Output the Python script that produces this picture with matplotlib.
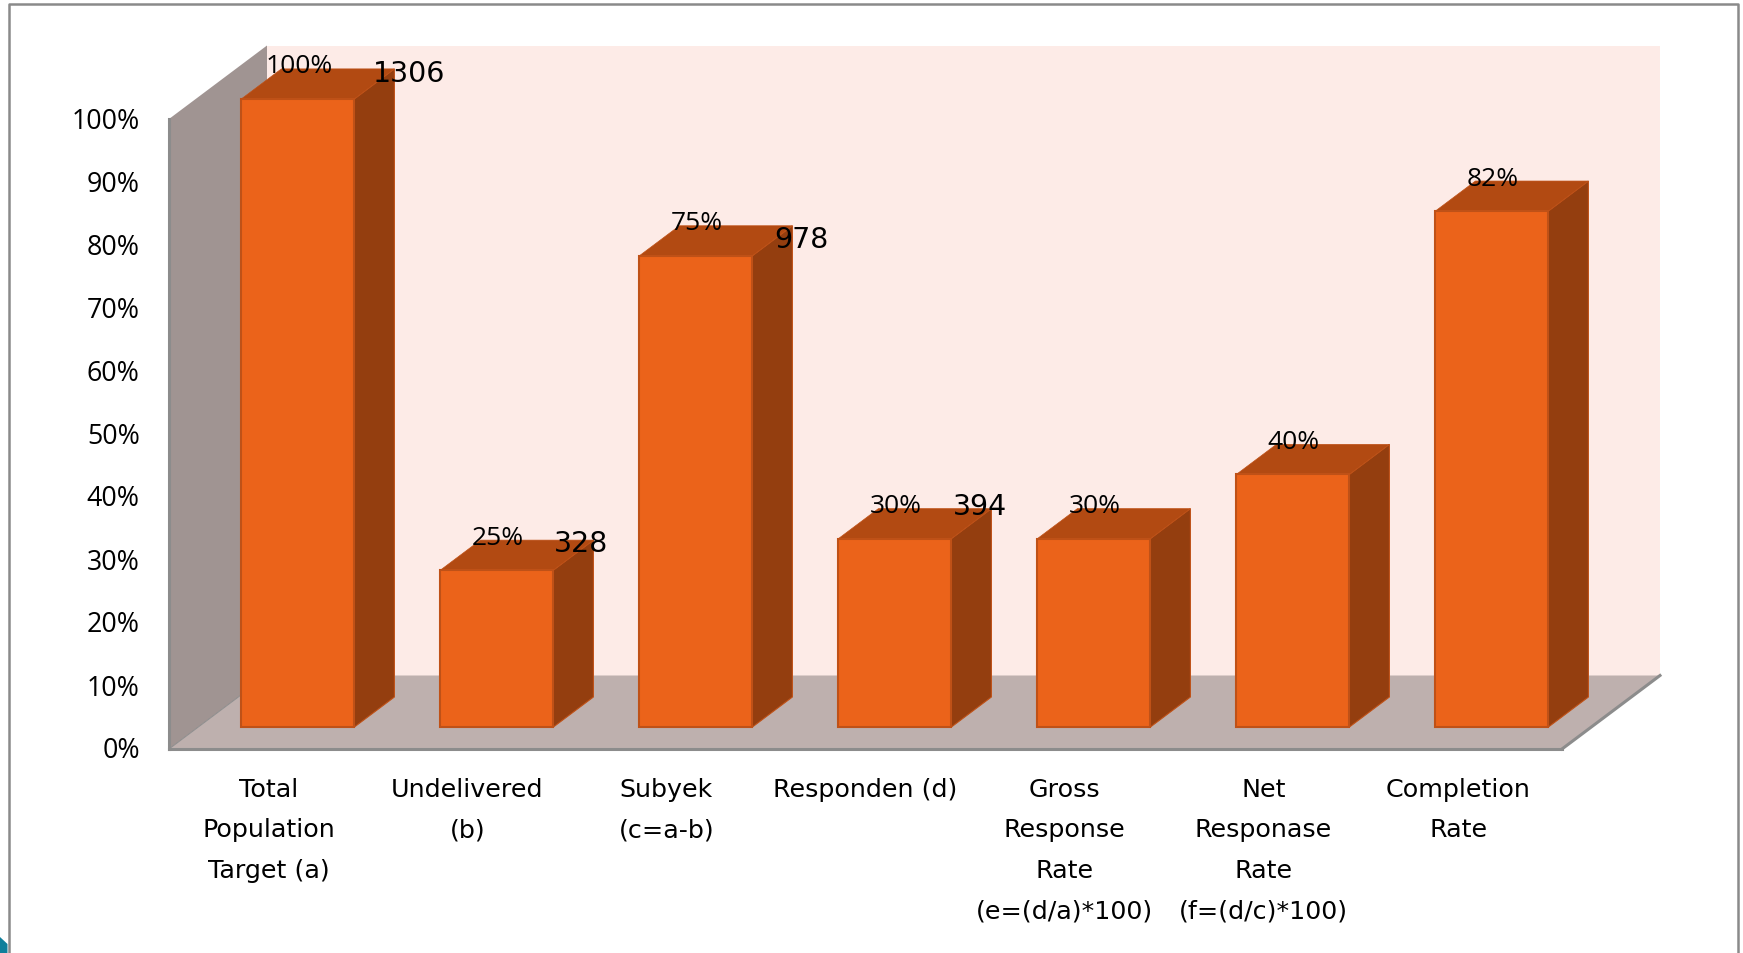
import matplotlib
matplotlib.use("Agg")
import matplotlib.pyplot as plt
from matplotlib.lines import Line2D
from matplotlib.patches import Polygon
from matplotlib.transforms import ScaledTranslation

categories = [
    "Total\nPopulation\nTarget (a)",
    "Undelivered\n(b)",
    "Subyek\n(c=a-b)",
    "Responden (d)",
    "Gross\nResponse\nRate\n(e=(d/a)*100)",
    "Net\nResponase\nRate\n(f=(d/c)*100)",
    "Completion\nRate",
]
percent_values = [99.7, 24.9, 74.8, 29.9, 29.9, 40.1, 81.9]
percent_labels = ["100%", "25%", "75%", "30%", "30%", "40%", "82%"]
count_labels = ["1306", "328", "978", "394", "", "", ""]
y_ticks = [0, 10, 20, 30, 40, 50, 60, 70, 80, 90, 100]

# style
W, H = 1743, 954
FRONT, EDGE, TOP, SIDE = "#EB631A", "#BF5117", "#B24A12", "#943E0F"
BACK, WALL, FLOOR, GREY = "#FDEBE7", "#A09492", "#BEB0AE", "#8C8C8C"
count_offsets = [(111, 26), (84, 27), (106, 17), (85, 33), (0, 0), (0, 0), (0, 0)]

fig = plt.figure(figsize=(W / 100, H / 100), dpi=100, facecolor="white")
ax = fig.add_axes([169 / W, 1 - 750 / H, (1562 - 169) / W, 630 / H])
ax.set_xlim(-0.5, 6.5)
ax.set_ylim(0, 100)
ax.patch.set_visible(False)

px_x = 7 / 1393          # data units per pixel
px_y = 100 / 630
wall_dx, wall_dy = 98 * px_x, 73.5 * px_y
depth_dx, depth_dy = 40 * px_x, 30 * px_y
bar_w = 113 * px_x
xmin, xmax = -0.5, 6.5

def poly(pts, color, z, **kw):
    ax.add_patch(Polygon(pts, closed=True, facecolor=color, edgecolor=kw.get("ec", "none"),
                         linewidth=kw.get("lw", 0), zorder=z, clip_on=False,
                         transform=kw.get("tr", ax.transData)))

# walls and floor
poly([(xmin + wall_dx, wall_dy), (xmax + wall_dx, wall_dy),
      (xmax + wall_dx, 100 + wall_dy), (xmin + wall_dx, 100 + wall_dy)], BACK, 1)
poly([(xmin, 0), (xmin + wall_dx, wall_dy), (xmin + wall_dx, 100 + wall_dy), (xmin, 100)], WALL, 2)
poly([(xmin, 0), (xmax, 0), (xmax + wall_dx, wall_dy), (xmin + wall_dx, wall_dy)], FLOOR, 2)
ax.plot([xmax, xmax + wall_dx], [0, wall_dy], color=GREY, lw=2.2, zorder=3, clip_on=False)
ax.plot([xmin, xmin + wall_dx], [0, wall_dy], color=GREY, lw=0.7, zorder=3, clip_on=False)

# bars: the bar plane sits a little behind the axis plane
shift = ScaledTranslation(29.4 / 100, 22 / 100, fig.dpi_scale_trans)
bar_tr = ax.transData + shift
xs = list(range(len(categories)))
ax.bar(xs, percent_values, width=bar_w, color=FRONT, edgecolor=EDGE, linewidth=1.5,
       transform=bar_tr, zorder=6, clip_on=False)
for x, v, pct, cnt, off in zip(xs, percent_values, percent_labels, count_labels, count_offsets):
    l, r = x - bar_w / 2, x + bar_w / 2
    poly([(r, 0), (r + depth_dx, depth_dy), (r + depth_dx, v + depth_dy), (r, v)], SIDE, 5,
         ec=EDGE, lw=0.8, tr=bar_tr)
    poly([(l, v), (r, v), (r + depth_dx, v + depth_dy), (l + depth_dx, v + depth_dy)], TOP, 5,
         ec=EDGE, lw=0.5, tr=bar_tr)
    ax.annotate(pct, (x, v), xycoords=bar_tr, xytext=(1, 33), textcoords="offset pixels",
                ha="center", va="center", fontsize=19, family="Open Sans", color="black",
                zorder=8, annotation_clip=False)
    if cnt:
        ax.annotate(cnt, (x, v), xycoords=bar_tr, xytext=off, textcoords="offset pixels",
                    ha="center", va="center", fontsize=20.5, family="DejaVu Sans", color="black",
                    zorder=8, annotation_clip=False)

# axes
for s in ("top", "right"):
    ax.spines[s].set_visible(False)
for s in ("left", "bottom"):
    ax.spines[s].set_color(GREY)
    ax.spines[s].set_linewidth(2.2)
    ax.spines[s].set_zorder(4)
ax.set_yticks(y_ticks)
ax.set_yticklabels([f"{t}%" for t in y_ticks], fontsize=19.3, family="Open Sans")
ax.set_xticks(xs)
ax.set_xticklabels(categories, fontsize=18.3, family="DejaVu Sans", linespacing=1.87)
ax.tick_params(axis="y", length=0, pad=21)
ax.tick_params(axis="x", length=0, pad=20)
fig.canvas.draw()
for lab in ax.get_yticklabels():
    lab.set_transform(lab.get_transform() + ScaledTranslation(0, 2 / 100, fig.dpi_scale_trans))
last = ax.get_xticklabels()[-1]
last.set_transform(last.get_transform() + ScaledTranslation(-4.4 / 100, 0, fig.dpi_scale_trans))

# slide frame and corner ornament
fig.add_artist(Line2D([8.5 / W, 8.5 / W, 1737.5 / W, 1737.5 / W], [0, 1 - 5 / H, 1 - 5 / H, 0],
                      color="#8A8A8A", lw=1.8))
fig.add_artist(Polygon([(0, 0), (7.5 / W, 0), (7.5 / W, 1 - 945 / H), (0, 1 - 938 / H)],
                       closed=True, facecolor="#0F7F9B", edgecolor="none",
                       transform=fig.transFigure))

fig.savefig("out.png", dpi=100, facecolor="white")
